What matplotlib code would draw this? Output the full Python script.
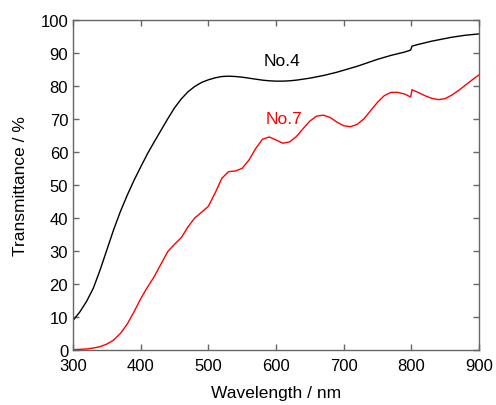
import numpy as np
from matplotlib import pyplot as plt

plt.rcParams['font.family'] = ['Liberation Sans', 'DejaVu Sans']

# No.4 (black)
wl4 = [300, 310, 320, 330, 340, 350, 360, 370, 380, 390, 400, 410, 420, 430,
       440, 450, 460, 470, 480, 490, 500, 510, 520, 530, 540, 550, 560, 570,
       580, 590, 600, 610, 620, 630, 640, 650, 660, 670, 680, 690, 700, 710,
       720, 730, 740, 750, 760, 770, 780, 790, 799, 801, 810, 820, 830, 840,
       850, 860, 870, 880, 890, 900]
t4 = [8.9, 11.5, 14.7, 18.7, 24.2, 30.3, 36.4, 41.9, 46.8, 51.3, 55.4, 59.4,
      63.0, 66.5, 70.0, 73.3, 76.0, 78.2, 79.8, 81.0, 81.8, 82.4, 82.8, 82.9,
      82.8, 82.6, 82.3, 82.0, 81.7, 81.5, 81.4, 81.4, 81.5, 81.7, 82.0, 82.3,
      82.7, 83.1, 83.6, 84.1, 84.7, 85.3, 85.9, 86.6, 87.3, 88.0, 88.6, 89.2,
      89.7, 90.2, 90.8, 92.0, 92.5, 93.0, 93.5, 93.9, 94.3, 94.7, 95.0, 95.3,
      95.5, 95.7]

# No.7 (red)
wl7 = [300, 310, 320, 330, 340, 350, 360, 370, 380, 390, 400, 410, 420, 430,
       440, 450, 460, 470, 480, 490, 500, 510, 520, 530, 540, 550, 560, 570,
       580, 590, 600, 610, 620, 630, 640, 650, 660, 670, 680, 690, 700, 710,
       720, 730, 740, 750, 760, 770, 780, 790, 799, 801, 810, 820, 830, 840,
       850, 860, 870, 880, 890, 900]
t7 = [0.1, 0.2, 0.3, 0.6, 1.0, 1.8, 3.0, 5.0, 7.8, 11.5, 15.5, 19.0, 22.2,
      26.0, 29.8, 32.0, 34.0, 37.3, 40.0, 41.7, 43.5, 47.5, 52.0, 54.0, 54.2,
      55.0, 57.5, 61.0, 63.8, 64.5, 63.6, 62.6, 63.0, 64.6, 67.0, 69.3, 70.8,
      71.1, 70.4, 69.0, 67.9, 67.6, 68.3, 70.0, 72.5, 75.0, 77.0, 78.0, 78.0,
      77.5, 76.6, 78.8, 78.0, 77.0, 76.2, 75.8, 76.1, 77.2, 78.6, 80.2, 81.8,
      83.3]

fig = plt.figure(figsize=(4.96, 4.06), dpi=100)
ax = fig.add_axes([0.1472, 0.1355, 0.8185, 0.8135])

ax.plot(wl4, t4, color='black', lw=1.0)
ax.plot(wl7, t7, color='red', lw=1.0)

ax.text(609, 87.6, 'No.4', color='black', fontsize=12.5, ha='center', va='center')
ax.text(612, 70.0, 'No.7', color='red', fontsize=12.5, ha='center', va='center')

ax.set_xlim(300, 900)
ax.set_ylim(0, 100)
ax.set_xticks(np.arange(300, 901, 100))
ax.set_yticks(np.arange(0, 101, 10))
ax.set_xlabel('Wavelength / nm', fontsize=12.5, labelpad=9)
ax.set_ylabel('Transmittance / %', fontsize=12.5, labelpad=9)

for s in ax.spines.values():
    s.set_color('#666666')
    s.set_linewidth(1.0)
ax.tick_params(direction='in', length=4.5, width=1.0, color='#666666',
               labelsize=12, top=True, right=True)
ax.tick_params(axis='x', pad=5.5)
ax.tick_params(axis='y', pad=3.5)

fig.savefig('out.png', dpi=100)
